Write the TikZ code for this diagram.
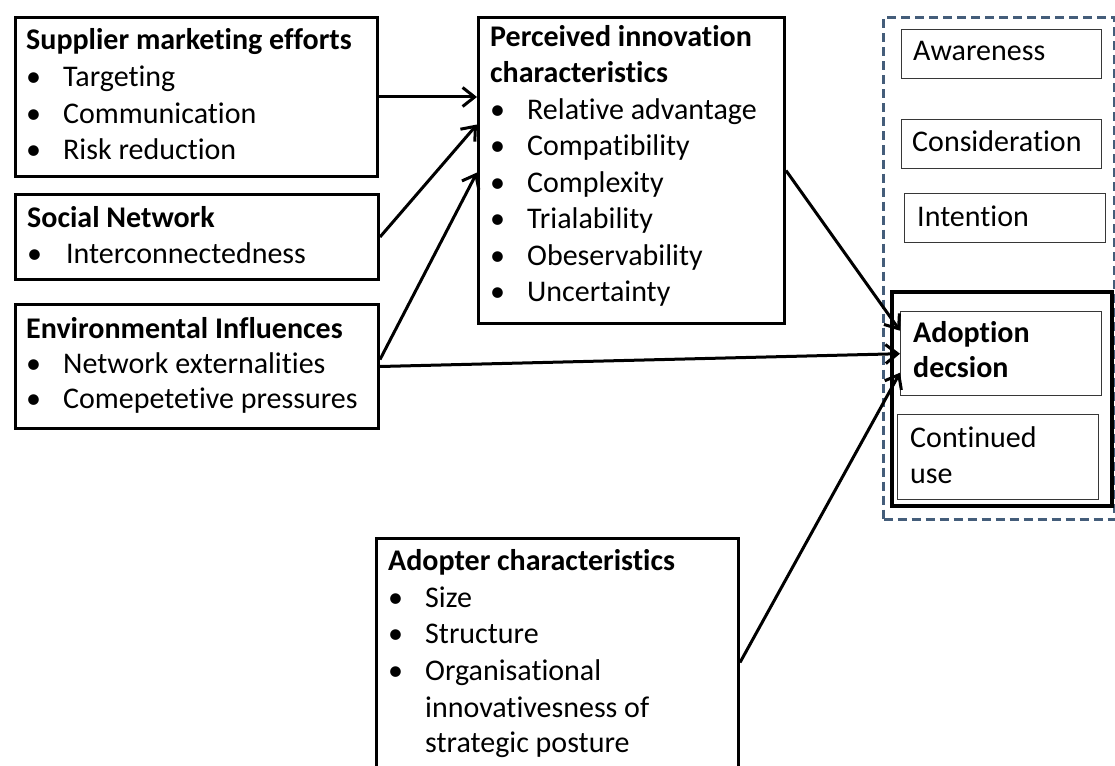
\documentclass[tikz,border=0pt]{standalone}
\usepackage{fontspec}
\setmainfont{Carlito}[Ligatures=NoCommon]
\usetikzlibrary{arrows.meta}
\definecolor{frame}{RGB}{68,93,122}
\definecolor{thinline}{RGB}{55,55,55}
\newcommand{\fsz}{\fontsize{30}{36}\selectfont}
\newcommand{\itm}[1]{\makebox[37pt][l]{\textbullet}#1}
\tikzset{
  box/.style={draw=black, line width=3pt, inner sep=0pt, anchor=north west},
  thinbox/.style={draw=thinline, line width=1.4pt, inner sep=0pt, anchor=north west},
  txt/.style={anchor=base west, inner sep=0pt, font=\fsz},
  hd/.style={anchor=base west, inner sep=0pt, font=\fsz\bfseries},
  link/.style={line width=3pt, -{Straight Barb[length=12pt,width=19pt]}},
}
\begin{document}
\begin{tikzpicture}[x=1pt,y=-1pt]
\useasboundingbox (0,0) rectangle (1115,765);
\clip (0,0) rectangle (1115,765);
\fill[white] (0,0) rectangle (1115,765);

% ---- left column of influences ----
\node[box, minimum width=362pt, minimum height=159pt] (sup) at (14,16) {};
\node[hd]  (supT) at (26,50)  {Supplier marketing efforts};
\node[txt] (sup1) at (26,87)  {\itm{Targeting}};
\node[txt] (sup2) at (26,123) {\itm{Communication}};
\node[txt] (sup3) at (26,159) {\itm{Risk reduction}};

\node[box, minimum width=363pt, minimum height=85pt] (soc) at (14,193) {};
\node[hd]  (socT) at (27,227) {Social Network};
\node[txt] (soc1) at (27,263) {\makebox[39pt][l]{\textbullet}Interconnectedness};

\node[box, minimum width=363pt, minimum height=124pt] (env) at (14,303) {};
\node[hd]  (envT) at (26,338) {Environmental Influences};
\node[txt] (env1) at (26,373) {\itm{Network externalities}};
\node[txt] (env2) at (26,408) {\itm{Comepetetive pressures}};

% ---- perceived innovation characteristics ----
\node[box, minimum width=306pt, minimum height=306pt] (pic) at (477,16) {};
\node[hd]  (picT1) at (490,47)  {Perceived innovation};
\node[hd]  (picT2) at (490,83)  {characteristics};
\node[txt] (pic1)  at (490,119) {\itm{Relative advantage}};
\node[txt] (pic2)  at (490,155) {\itm{Compatibility}};
\node[txt] (pic3)  at (490,192) {\itm{Complexity}};
\node[txt] (pic4)  at (490,228) {\itm{Trialability}};
\node[txt] (pic5)  at (490,265) {\itm{Obeservability}};
\node[txt] (pic6)  at (490,301) {\itm{Uncertainty}};

% ---- adopter characteristics ----
\node[box, minimum width=362pt, minimum height=280pt] (adp) at (375,537) {};
\node[hd]  (adpT) at (388,570) {Adopter characteristics};
\node[txt] (adp1) at (388,607) {\itm{Size}};
\node[txt] (adp2) at (388,643) {\itm{Structure}};
\node[txt] (adp3) at (388,680) {\itm{Organisational}};
\node[txt] (adp4) at (425,717) {innovativesness of};
\node[txt] (adp5) at (425,752) {strategic posture};

% ---- adoption stages ----
\node[draw=frame, line width=3pt, dash pattern=on 9pt off 5pt, inner sep=0pt,
      anchor=north west, minimum width=231pt, minimum height=502pt] (stages) at (882,16) {};
\node[thinbox, minimum width=200pt, minimum height=49pt] (aware) at (901,29) {};
\node[txt] (awareT) at (913,61) {Awareness};
\node[thinbox, minimum width=200pt, minimum height=49pt] (consid) at (901,119) {};
\node[txt] (considT) at (912,151) {Consideration};
\node[thinbox, minimum width=201pt, minimum height=49pt] (intent) at (904,193) {};
\node[txt] (intentT) at (917,226) {Intention};

\node[box, line width=3.5pt, minimum width=220pt, minimum height=214pt] (outer) at (890,290) {};
\node[thinbox, minimum width=201pt, minimum height=84pt] (adopt) at (900,311) {};
\node[hd]  (adoptT1) at (913,342) {Adoption};
\node[hd]  (adoptT2) at (913,377) {decsion};
\node[thinbox, minimum width=201pt, minimum height=85pt] (cont) at (897,414) {};
\node[txt] (contT1) at (910,447) {Continued};
\node[txt] (contT2) at (910,483) {use};

% ---- influence links ----
\draw[link] (sup.east) -- (sup.east -| pic.west);
\draw[link] (soc.east) -- ([yshift=46pt]pic.west);
\draw[link] ([yshift=7pt]env.east) -- ([yshift=-2pt]pic.west);
\draw[link] (env.east) -- (adopt.west);
\draw[link] (pic.east) -- ([yshift=23pt]adopt.west);
\draw[link] ([yshift=16pt]adp.east) -- ([yshift=-19pt]adopt.west);
\end{tikzpicture}
\end{document}
